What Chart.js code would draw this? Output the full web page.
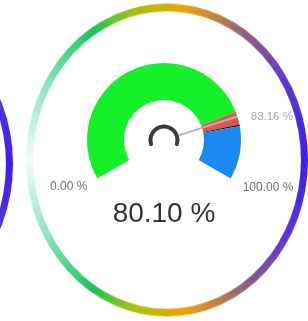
<!DOCTYPE html>
<html lang="en">
<head>
<meta charset="UTF-8">
<title>Gauge</title>
<script src="https://cdn.jsdelivr.net/npm/chart.js@4.4.0/dist/chart.umd.min.js"></script>
<style>
    body { margin: 0; background: #fff; }
    #wrap { position: relative; width: 308px; height: 321px; overflow: hidden; }
    #wrap canvas { position: absolute; }
    .ring { transform: scaleY(1.11); transform-origin: 150px 150px; }
</style>
</head>
<body>

<div id="wrap">
    <canvas id="ringLeft" class="ring" width="300" height="300" style="left:-278px; top:14px;"></canvas>
    <canvas id="ringMain" class="ring" width="300" height="300" style="left:17px; top:9.5px;"></canvas>
    <canvas id="gauge" width="308" height="321" style="left:0; top:0;"></canvas>
</div>

<script>
// gauge data (percent)
const minValue = 0;
const maxValue = 100;
const segmentLabels = ['Normal', 'Warning', 'Target', 'Rest'];
const segmentValues = [78.5, 4.2, 0.46, 16.84];
const needleValue = 80.10;
const markerValue = 83.16;

// frame ring: one full slice
const ringValues = [1];

const segmentColors = ['#14f02a', '#e2574c', '#111111', '#1c88f2'];

function fmt(v) {
    return v.toFixed(2) + ' %';
}

// conic colour band for the outer frame
function ringGradient(context) {
    const chart = context.chart;
    const area = chart.chartArea;
    if (!area) return '#3b1ff2';
    const cx = (area.left + area.right) / 2;
    const cy = (area.top + area.bottom) / 2;
    const g = chart.ctx.createConicGradient(0, cx, cy);
    g.addColorStop(0.00, '#3a1ef2');
    g.addColorStop(0.08, '#5a36d6');
    g.addColorStop(0.15, '#8e5c86');
    g.addColorStop(0.23, '#f0a208');
    g.addColorStop(0.29, '#a6c20e');
    g.addColorStop(0.34, '#18c45a');
    g.addColorStop(0.42, '#8ee6c2');
    g.addColorStop(0.50, '#f2fcf8');
    g.addColorStop(0.58, '#8ee6c2');
    g.addColorStop(0.66, '#18c45a');
    g.addColorStop(0.71, '#a6c20e');
    g.addColorStop(0.77, '#f0a208');
    g.addColorStop(0.85, '#8e5c86');
    g.addColorStop(0.92, '#5a36d6');
    g.addColorStop(1.00, '#3a1ef2');
    return g;
}

function makeRing(id) {
    new Chart(document.getElementById(id), {
        type: 'doughnut',
        data: {
            labels: ['frame'],
            datasets: [{
                data: ringValues,
                backgroundColor: ringGradient,
                borderWidth: 0
            }]
        },
        options: {
            responsive: false,
            animation: false,
            events: [],
            radius: 141,
            cutout: '95%',
            plugins: { legend: { display: false }, tooltip: { enabled: false } }
        }
    });
}

makeRing('ringLeft');
makeRing('ringMain');

// needle, hub and texts drawn on top of the gauge arcs
const gaugeDecor = {
    id: 'gaugeDecor',
    afterDatasetsDraw(chart) {
        const arcs = chart.getDatasetMeta(0).data;
        const first = arcs[0];
        const last = arcs[arcs.length - 1];
        const cx = first.x, cy = first.y;
        const rOut = first.outerRadius;
        const a0 = first.startAngle;
        const a1 = last.endAngle;
        const angleOf = v => a0 + (a1 - a0) * (v - minValue) / (maxValue - minValue);
        const ctx = chart.ctx;
        ctx.save();

        // needle
        const an = angleOf(needleValue);
        ctx.strokeStyle = '#b4b4b4';
        ctx.lineWidth = 2;
        ctx.beginPath();
        ctx.moveTo(cx + 16 * Math.cos(an), cy + 16 * Math.sin(an));
        ctx.lineTo(cx + rOut * Math.cos(an), cy + rOut * Math.sin(an));
        ctx.stroke();

        // hub
        ctx.strokeStyle = '#3c3c3c';
        ctx.lineWidth = 4;
        ctx.lineCap = 'round';
        ctx.beginPath();
        ctx.arc(cx, cy, 13.5, Math.PI * 0.9, Math.PI * 2.1);
        ctx.stroke();

        ctx.font = '12px "Liberation Sans", Arial, sans-serif';
        ctx.textBaseline = 'middle';

        // min / max labels
        ctx.fillStyle = '#707070';
        ctx.textAlign = 'right';
        ctx.fillText(fmt(minValue), cx + rOut * Math.cos(a0) - 10, cy + rOut * Math.sin(a0) + 8);
        ctx.textAlign = 'left';
        ctx.fillText(fmt(maxValue), cx + rOut * Math.cos(a1) + 12, cy + rOut * Math.sin(a1) + 9);

        // marker label
        const am = angleOf(markerValue);
        ctx.fillStyle = '#a8a8a8';
        ctx.font = '11.5px "Liberation Sans", Arial, sans-serif';
        ctx.fillText(fmt(markerValue), cx + rOut * Math.cos(am) + 11, cy + rOut * Math.sin(am) - 9);

        // value
        ctx.fillStyle = '#333333';
        ctx.textAlign = 'center';
        ctx.font = '28px "Liberation Sans", Arial, sans-serif';
        ctx.fillText(fmt(needleValue), cx, cy + 74);

        ctx.restore();
    }
};

new Chart(document.getElementById('gauge'), {
    type: 'doughnut',
    data: {
        labels: segmentLabels,
        datasets: [{
            data: segmentValues,
            backgroundColor: segmentColors,
            borderWidth: 0
        }]
    },
    options: {
        responsive: false,
        animation: false,
        events: [],
        rotation: -120,
        circumference: 240,
        radius: 77,
        cutout: '52%',
        layout: { padding: { left: 20, right: 0, top: 0, bottom: 79.5 } },
        plugins: { legend: { display: false }, tooltip: { enabled: false } }
    },
    plugins: [gaugeDecor]
});
</script>

</body>
</html>
